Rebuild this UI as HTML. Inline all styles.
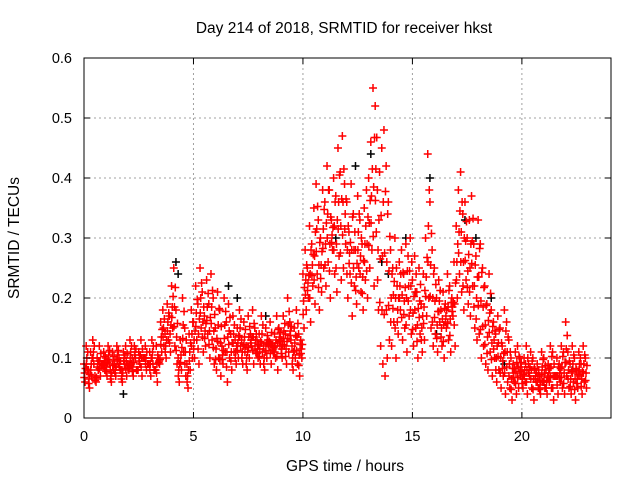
<!DOCTYPE html>
<html><head><meta charset="utf-8"><style>
body{margin:0;background:#fff}
svg{display:block;font-family:"Liberation Sans",sans-serif}
</style></head><body>
<svg id="chart" width="640" height="480" xmlns="http://www.w3.org/2000/svg">
<rect width="640" height="480" fill="#fff"/>
<text x="344" y="33" font-size="15.5" text-anchor="middle">Day 214 of 2018, SRMTID for receiver hkst</text>
<text transform="translate(19,238) rotate(-90)" font-size="15.5" text-anchor="middle">SRMTID / TECUs</text>
<text x="345" y="471" font-size="15.5" text-anchor="middle">GPS time / hours</text>
<g id="grid"></g><g id="marks"></g><g id="axes"></g>
</svg>
<script>
const xTicks=[0,5,10,15,20];
const yTicks=[0,0.1,0.2,0.3,0.4,0.5,0.6];
const yTickLabels=["0","0.1","0.2","0.3","0.4","0.5","0.6"];
const seriesUpper=[.09,.12,.08,.11,.13,.07,.10,.12,.09,.11,
.10,.12,.08,.11,.09,.12,.10,.08,.11,.12,
.09,.13,.10,.12,.08,.11,.13,.10,.12,.09,
.11,.13,.08,.12,.10,.16,.18,.14,.19,.17,
.22,.25,.18,.10,.13,.20,.15,.09,.14,.18,
.16,.22,.19,.25,.21,.17,.23,.19,.24,.20,
.15,.21,.18,.12,.20,.16,.19,.14,.17,.13,
.15,.18,.13,.16,.12,.17,.14,.18,.15,.13,
.14,.17,.12,.15,.13,.16,.12,.14,.17,.15,
.13,.17,.14,.20,.16,.12,.15,.18,.14,.13,
.24,.28,.25,.32,.29,.35,.39,.33,.30,.38,
.36,.42,.38,.33,.40,.37,.45,.41,.47,.39,
.36,.31,.39,.34,.28,.37,.33,.29,.35,.38,
.40,.46,.55,.52,.38,.41,.45,.48,.42,.36,
.28,.25,.30,.22,.26,.28,.24,.29,.27,.30,
.23,.27,.21,.25,.19,.24,.30,.44,.36,.28,
.25,.20,.23,.18,.21,.19,.24,.22,.20,.26,
.32,.38,.41,.34,.36,.30,.33,.37,.29,.27,
.33,.29,.25,.22,.19,.24,.18,.16,.14,.17,
.15,.12,.18,.16,.13,.10,.09,.11,.12,.10,
.08,.10,.12,.09,.11,.10,.08,.09,.07,.11,
.10,.08,.09,.12,.11,.07,.10,.09,.12,.11,
.16,.11,.09,.12,.10,.08,.11,.09,.12,.10];
const seriesLower=[.06,.08,.05,.07,.09,.06,.08,.07,.09,.08,
.07,.09,.06,.08,.07,.09,.08,.06,.09,.07,
.08,.09,.07,.10,.08,.09,.07,.10,.08,.09,
.07,.09,.08,.06,.09,.11,.12,.10,.13,.11,
.15,.12,.09,.06,.08,.11,.07,.05,.08,.10,
.10,.13,.09,.15,.11,.12,.14,.10,.13,.09,
.08,.10,.07,.09,.11,.06,.10,.08,.11,.09,
.10,.12,.09,.11,.08,.10,.12,.09,.11,.10,
.09,.11,.08,.10,.12,.09,.11,.10,.08,.12,
.10,.12,.09,.11,.13,.08,.10,.09,.07,.10,
.15,.18,.20,.16,.22,.19,.24,.18,.21,.25,
.22,.26,.20,.28,.24,.21,.27,.23,.25,.29,
.20,.24,.17,.22,.19,.25,.21,.18,.23,.20,
.25,.28,.22,.31,.18,.12,.09,.07,.10,.13,
.12,.16,.10,.14,.18,.13,.15,.11,.17,.14,
.12,.15,.10,.14,.11,.13,.17,.20,.15,.12,
.14,.11,.16,.12,.10,.15,.13,.11,.17,.12,
.20,.24,.21,.18,.23,.19,.17,.22,.15,.13,
.14,.10,.12,.09,.08,.11,.07,.10,.06,.08,
.05,.07,.04,.06,.05,.03,.06,.04,.05,.07,
.05,.06,.04,.07,.05,.03,.06,.05,.04,.06,
.05,.04,.06,.05,.03,.07,.04,.06,.05,.04,
.07,.05,.04,.06,.03,.05,.07,.04,.06,.05];
const blackTimes=[1.8,4.2,4.3,6.6,7.0,8.3,11.5,12.4,13.1,13.6,13.9,14.7,15.8,16.1,17.4,17.9,18.6,19.2,21.0,22.3];
const blackValues=[.04,.26,.24,.22,.20,.17,.30,.42,.44,.26,.24,.30,.40,.14,.33,.30,.20,.09,.06,.08];
const sampleStep=0.1;
const X0=84,X1=611,Y0=418,Y1=58,XMAX=24.07,YMAX=0.6;
const xs=t=>X0+(X1-X0)*t/XMAX, ys=v=>Y0-(Y0-Y1)*v/YMAX;
const NS="http://www.w3.org/2000/svg";
function mk(tag,attrs,parent){const e=document.createElementNS(NS,tag);for(const k in attrs)e.setAttribute(k,attrs[k]);parent.appendChild(e);return e;}
const grid=document.getElementById('grid'),marks=document.getElementById('marks'),axes=document.getElementById('axes');
xTicks.forEach(t=>{const x=xs(t);
 if(t>0){const g=mk('line',{x1:x,x2:x,y1:Y1,y2:Y0,stroke:'#a0a0a0','stroke-dasharray':'2,3'},grid);
 
 }
 mk('line',{x1:x,x2:x,y1:Y0,y2:Y0-6,stroke:'#000'},axes);
 mk('line',{x1:x,x2:x,y1:Y1,y2:Y1+6,stroke:'#000'},axes);
 const l=mk('text',{x:x,y:Y0+23,'font-size':14.5,'text-anchor':'middle'},axes);l.textContent=t;
 
 
});
yTicks.forEach((v,i)=>{const y=ys(v);
 if(v>0&&v<YMAX){const g=mk('line',{x1:X0,x2:X1,y1:y,y2:y,stroke:'#a0a0a0','stroke-dasharray':'2,3'},grid);
 
 }
 mk('line',{x1:X0,x2:X0+6,y1:y,y2:y,stroke:'#000'},axes);
 mk('line',{x1:X1,x2:X1-6,y1:y,y2:y,stroke:'#000'},axes);
 const l=mk('text',{x:X0-12,y:y+5,'font-size':14.5,'text-anchor':'end'},axes);l.textContent=yTickLabels[i];
 
 
});
const frame=mk('rect',{x:X0,y:Y1,width:X1-X0,height:Y0-Y1,fill:'none',stroke:'#000'},axes);


function plus(t,v,color){const x=xs(t),y=ys(v);
 const p=mk('path',{d:`M${x-4} ${y}h8M${x} ${y-4}v8`,stroke:color,'stroke-width':1.5,fill:'none'},marks);
 
 }
blackValues.forEach((v,i)=>plus(blackTimes[i],v,'#000'));
seriesUpper.forEach((v,i)=>plus(i*sampleStep,v,'#f00'));
seriesLower.forEach((v,i)=>plus(i*sampleStep+0.05,v,'#f00'));
seriesUpper.forEach((v,i)=>plus(i*sampleStep+0.03,(v+seriesLower[i])/2,'#f00'));
seriesUpper.forEach((v,i)=>plus(i*sampleStep+0.07,(3*v+seriesLower[i])/4,'#f00'));
seriesLower.forEach((v,i)=>plus(i*sampleStep+0.01,(3*v+seriesUpper[i])/4,'#f00'));
</script>
</body></html>
